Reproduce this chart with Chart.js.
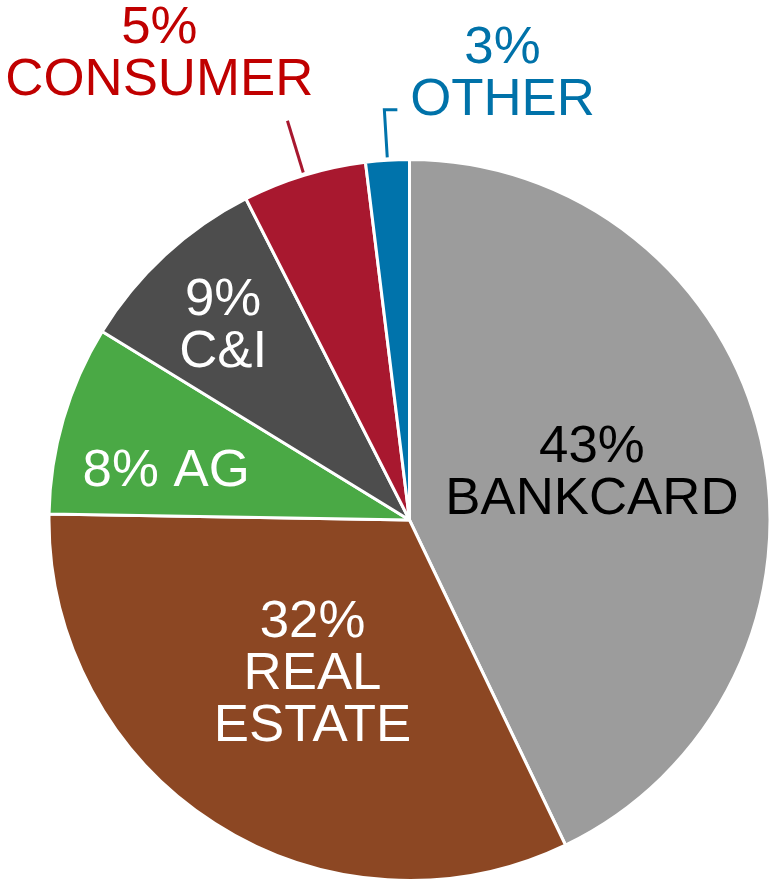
<!DOCTYPE html>
<html>
<head>
<meta charset="utf-8">
<script src="https://cdn.jsdelivr.net/npm/chart.js@4.4.1/dist/chart.umd.min.js"></script>
<style>
  html, body { margin: 0; padding: 0; background: #fff; }
  #wrap { width: 772px; height: 887px; }
</style>
</head>
<body>
<div id="wrap"><canvas id="pieChart" width="772" height="887"></canvas></div>
<script>
// === DONNEES ===
const categories = ['BANKCARD', 'REAL ESTATE', 'AG', 'C&I', 'CONSUMER', 'OTHER'];
const shares = [42.9, 32.4, 8.5, 8.75, 5.55, 1.95];
// libelles affiches (arrondis, tels que sur l'image)
const pctLabels = ['43%', '32%', '8%', '9%', '5%', '3%'];
const labelLines = [
  ['43%', 'BANKCARD'],
  ['32%', 'REAL', 'ESTATE'],
  ['8% AG'],
  ['9%', 'C&I'],
  ['5%', 'CONSUMER'],
  ['3%', 'OTHER']
];

const sliceColors = ['#9C9C9C', '#8C4723', '#4AA945', '#4D4D4D', '#A8182F', '#0073AB'];
const textColors = ['#000000', '#FFFFFF', '#FFFFFF', '#FFFFFF', '#C00000', '#0072A9'];

// position des libelles, en fraction du rayon par rapport au centre (x, 1re ligne de base)
const labelPos = [
  [0.506, -0.161],
  [-0.269, 0.325],
  [-0.675, -0.094],
  [-0.517, -0.569],
  [-0.694, -1.322],
  [0.258, -1.267]
];
const LINE_H = 52;
const FONT = '51px "Liberation Sans", Arial, sans-serif';
const STRETCH_X = 1.035; // texte legerement elargi comme sur l'original

// Plugin pour les libelles et les traits de rappel
const pieLabels = {
  id: 'pieLabels',
  afterDatasetsDraw(chart) {
    const ctx = chart.ctx;
    const arcs = chart.getDatasetMeta(0).data;
    if (!arcs.length) return;
    const cx = arcs[0].x;
    const cy = arcs[0].y;
    const r = arcs[0].outerRadius;

    ctx.save();

    // traits de rappel pour CONSUMER et OTHER
    [4, 5].forEach(i => {
      const a = arcs[i];
      const mid = (a.startAngle + a.endAngle) / 2;
      const r1 = r * 1.008;
      const r2 = i === 4 ? r * 1.158 : r * 1.14;
      const x1 = cx + Math.cos(mid) * r1;
      const y1 = cy + Math.sin(mid) * r1;
      const x2 = cx + Math.cos(mid) * r2;
      const y2 = cy + Math.sin(mid) * r2;
      ctx.strokeStyle = sliceColors[i];
      ctx.lineWidth = 3;
      ctx.beginPath();
      ctx.moveTo(x1, y1);
      ctx.lineTo(x2, y2);
      if (i === 5) {
        ctx.lineTo(x2 + 13, y2);
      }
      ctx.stroke();
    });

    ctx.font = FONT;
    ctx.textAlign = 'center';
    ctx.textBaseline = 'alphabetic';
    labelLines.forEach((lines, i) => {
      const x = cx + labelPos[i][0] * r;
      const y0 = cy + labelPos[i][1] * r;
      ctx.fillStyle = textColors[i];
      lines.forEach((txt, k) => {
        ctx.save();
        ctx.translate(x, y0 + k * LINE_H);
        ctx.scale(STRETCH_X, 1);
        ctx.fillText(txt, 0, 0);
        ctx.restore();
      });
    });

    ctx.restore();
  }
};

const ctx = document.getElementById('pieChart').getContext('2d');
new Chart(ctx, {
  type: 'pie',
  data: {
    labels: categories,
    datasets: [{
      data: shares,
      backgroundColor: sliceColors,
      borderColor: '#FFFFFF',
      borderWidth: 3
    }]
  },
  options: {
    responsive: false,
    animation: false,
    layout: {
      padding: { left: 47, right: 0, top: 158, bottom: 5 }
    },
    plugins: {
      legend: { display: false },
      tooltip: { enabled: false }
    }
  },
  plugins: [pieLabels]
});
</script>
</body>
</html>
